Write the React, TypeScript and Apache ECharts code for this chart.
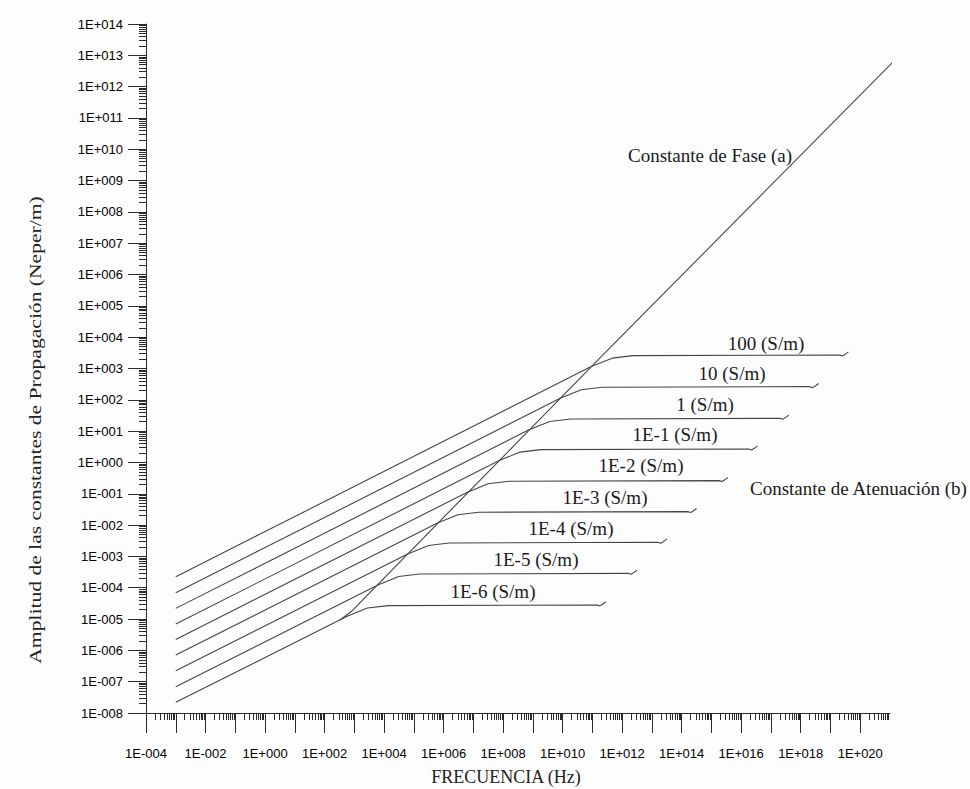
import React, { useEffect, useRef } from "react";
import * as echarts from "echarts";

// Conductivity of each attenuation curve (top to bottom)
const sigmaLabels = ["100 (S/m)", "10 (S/m)", "1 (S/m)", "1E-1 (S/m)", "1E-2 (S/m)", "1E-3 (S/m)", "1E-4 (S/m)", "1E-5 (S/m)", "1E-6 (S/m)"];

// Attenuation constant curves: [frequency (Hz), amplitude (Neper/m)]
const attenuation100 = [[1e-3, 2.24e-4], [9.1e10, 1.15e3], [4.6e11, 2.14e3], [2.3e12, 2.57e3], [2.0e19, 2.69e3], [2.5e19, 2.51e3], [3.16e19, 2.88e3], [4.0e19, 3.39e3]];
const attenuation10 = [[1e-3, 6.92e-5], [8.3e9, 1.12e2], [4.2e10, 2.09e2], [2.1e11, 2.51e2], [2.0e18, 2.63e2], [2.5e18, 2.45e2], [3.16e18, 2.82e2], [4.0e18, 3.31e2]];
const attenuation1 = [[1e-3, 2.19e-5], [7.4e8, 11.0], [3.7e9, 20.4], [1.86e10, 24.5], [2.0e17, 25.7], [2.5e17, 24.0], [3.16e17, 27.5], [4.0e17, 32.4]];
const attenuation1em1 = [[1e-3, 6.92e-6], [7.4e7, 1.15], [3.7e8, 2.14], [1.86e9, 2.57], [1.78e16, 2.69], [2.24e16, 2.51], [2.82e16, 2.88], [3.55e16, 3.39]];
const attenuation1em2 = [[1e-3, 2.24e-6], [6.3e6, 0.112], [3.16e7, 0.209], [1.58e8, 0.251], [1.78e15, 0.263], [2.24e15, 0.245], [2.82e15, 0.282], [3.55e15, 0.331]];
const attenuation1em3 = [[1e-3, 7.08e-7], [6.0e5, 1.15e-2], [3.0e6, 2.14e-2], [1.51e7, 2.57e-2], [1.58e14, 2.69e-2], [2.0e14, 2.51e-2], [2.5e14, 2.88e-2], [3.16e14, 3.39e-2]];
const attenuation1em4 = [[1e-3, 2.24e-7], [6.2e4, 1.2e-3], [3.1e5, 2.24e-3], [1.55e6, 2.69e-3], [1.58e13, 2.82e-3], [2.0e13, 2.63e-3], [2.5e13, 3.02e-3], [3.16e13, 3.55e-3]];
const attenuation1em5 = [[1e-3, 6.92e-8], [6.2e3, 1.23e-4], [3.1e4, 2.29e-4], [1.55e5, 2.75e-4], [1.58e12, 2.88e-4], [2.0e12, 2.69e-4], [2.5e12, 3.09e-4], [3.16e12, 3.63e-4]];
const attenuation1em6 = [[1e-3, 2.19e-8], [5.5e2, 1.2e-5], [2.75e3, 2.24e-5], [1.38e4, 2.69e-5], [1.41e11, 2.82e-5], [1.78e11, 2.63e-5], [2.24e11, 3.02e-5], [2.82e11, 3.55e-5]];

const attenuationCurves = [attenuation100, attenuation10, attenuation1, attenuation1em1, attenuation1em2, attenuation1em3, attenuation1em4, attenuation1em5, attenuation1em6];

// Phase constant (common high-frequency asymptote)
const phaseConstant = [[3.3e2, 9.3e-6], [7.9e2, 1.74e-5], [1.8e11, 2.17e3], [1.86e21, 8.9e12]];

// Axis ticks
const xDecades = [1e-4, 1e-3, 1e-2, 1e-1, 1e0, 1e1, 1e2, 1e3, 1e4, 1e5, 1e6, 1e7, 1e8, 1e9, 1e10, 1e11, 1e12, 1e13, 1e14, 1e15, 1e16, 1e17, 1e18, 1e19, 1e20, 1e21];
const xLabelValues = [1e-4, 1e-2, 1e0, 1e2, 1e4, 1e6, 1e8, 1e10, 1e12, 1e14, 1e16, 1e18, 1e20];
const yDecades = [1e-8, 1e-7, 1e-6, 1e-5, 1e-4, 1e-3, 1e-2, 1e-1, 1e0, 1e1, 1e2, 1e3, 1e4, 1e5, 1e6, 1e7, 1e8, 1e9, 1e10, 1e11, 1e12, 1e13, 1e14];
const minorMultipliers = [2, 3, 4, 5, 6, 7, 8, 9];

// Label anchors (pixels)
const sigmaLabelPos = [[766, 343], [732, 373], [705, 404], [675, 434], [641, 465], [605, 497], [571, 528], [536, 559], [493, 591]];

function minorValues(decades: number[]) {
  const out: number[] = [];
  decades.slice(0, -1).forEach((d) => minorMultipliers.forEach((k) => out.push(Number((k * d).toPrecision(3)))));
  return out;
}

const sci = (v: number) => {
  const e = Math.round(Math.log10(v));
  return "1E" + (e < 0 ? "-" : "+") + String(Math.abs(e)).padStart(3, "0");
};

const INK = "#2a2a2a";
const LINE = "#454545";
const SERIF = '"Liberation Serif", "Times New Roman", serif';
const SANS = '"Liberation Sans", Arial, sans-serif';

export default function App() {
  const ref = useRef<HTMLDivElement>(null);
  useEffect(() => {
    if (!ref.current) return;
    const chart = echarts.init(ref.current, null, { renderer: "svg" });

    const baseX = { type: "log", logBase: 10, min: 1e-4, max: 1e21, position: "bottom", splitLine: { show: false }, minorTick: { show: false }, minorSplitLine: { show: false } };
    const baseY = { type: "log", logBase: 10, min: 1e-8, max: 1e14, position: "left", splitLine: { show: false }, minorTick: { show: false }, minorSplitLine: { show: false } };

    const series: any[] = attenuationCurves.map((d, i) => ({
      name: "Constante de Atenuación " + sigmaLabels[i],
      type: "line",
      data: d,
      showSymbol: false,
      symbol: "none",
      silent: true,
      lineStyle: { color: LINE, width: 1.1 },
      xAxisIndex: 0,
      yAxisIndex: 0,
    }));
    series.push({
      name: "Constante de Fase",
      type: "line",
      data: phaseConstant,
      showSymbol: false,
      symbol: "none",
      silent: true,
      clip: false,
      lineStyle: { color: LINE, width: 1.1 },
      xAxisIndex: 0,
      yAxisIndex: 0,
    });

    const graphics: any[] = [
      {
        type: "text",
        x: 35,
        y: 430,
        rotation: Math.PI / 2,
        scaleX: 1.27,
        style: { text: "Amplitud de las constantes de Propagación (Neper/m)", fontFamily: SERIF, fontSize: 17, fill: "#222", align: "center", verticalAlign: "middle" },
      },
      {
        type: "text",
        x: 506,
        y: 777,
        style: { text: "FRECUENCIA (Hz)", fontFamily: SERIF, fontSize: 18, fill: "#222", align: "center", verticalAlign: "middle" },
      },
      {
        type: "text",
        x: 628,
        y: 155,
        style: { text: "Constante de Fase (a)", fontFamily: SERIF, fontSize: 19, fill: "#1a1a1a", align: "left", verticalAlign: "middle" },
      },
      {
        type: "text",
        x: 750,
        y: 488,
        style: { text: "Constante de Atenuación (b)", fontFamily: SERIF, fontSize: 19, fill: "#1a1a1a", align: "left", verticalAlign: "middle" },
      },
      ...sigmaLabels.map((t, i) => ({
        type: "text",
        x: sigmaLabelPos[i][0],
        y: sigmaLabelPos[i][1],
        style: { text: t, fontFamily: SERIF, fontSize: 19, fill: "#1a1a1a", align: "center", verticalAlign: "middle" },
      })),
    ];

    chart.setOption({
      animation: false,
      backgroundColor: "#fdfdfd",
      grid: { left: 146, right: 80, top: 24, bottom: 76, containLabel: false, outerBoundsMode: "none" },
      xAxis: [
        {
          ...baseX,
          axisLine: { show: true, lineStyle: { color: INK, width: 1 } },
          axisTick: { show: true, inside: false, length: 20, customValues: xDecades, lineStyle: { color: INK, width: 1 } },
          axisLabel: { show: true, customValues: xLabelValues, formatter: sci, margin: 34, fontFamily: SANS, fontSize: 13, color: "#000", hideOverlap: false },
        },
        {
          ...baseX,
          axisLine: { show: false },
          axisTick: { show: true, inside: false, length: 7, customValues: minorValues(xDecades), lineStyle: { color: INK, width: 1 } },
          axisLabel: { show: false },
        },
      ],
      yAxis: [
        {
          ...baseY,
          axisLine: { show: true, lineStyle: { color: INK, width: 1 } },
          axisTick: { show: true, inside: false, length: 18, customValues: yDecades, lineStyle: { color: INK, width: 1 } },
          axisLabel: { show: true, customValues: yDecades, formatter: sci, margin: 23, fontFamily: SANS, fontSize: 13, color: "#000", hideOverlap: false },
        },
        {
          ...baseY,
          axisLine: { show: false },
          axisTick: { show: true, inside: false, length: 7, customValues: minorValues(yDecades), lineStyle: { color: INK, width: 1 } },
          axisLabel: { show: false },
        },
      ],
      series,
      graphic: graphics,
    });

    return () => chart.dispose();
  }, []);

  return <div ref={ref} style={{ position: "fixed", left: 0, top: 0, width: 970, height: 789 }} />;
}
